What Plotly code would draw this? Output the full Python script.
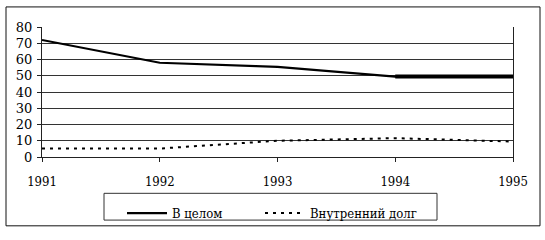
import plotly.graph_objects as go

years = [1991, 1992, 1993, 1994, 1995]
total = [72, 58, 55.5, 49.5, 49.5]
domestic = [5.3, 5.2, 10, 11.6, 9.5]
series_names = ["В целом", "Внутренний долг"]

W, H = 545, 240
ML, MR, MT, MB = 42, 32, 27, 77
pw = W - ML - MR
ph = H - MT - MB

def px_x(p):
    return (p - ML) / pw

def px_y(p):
    return (H - MB - p) / ph

font = dict(family="DejaVu Serif", size=13, color="black")
cfont = dict(family="DejaVu Serif Condensed, DejaVu Serif", size=13, color="black")

fig = go.Figure()
fig.add_trace(go.Scatter(x=years, y=total, mode="lines", name=series_names[0],
                         legend="legend",
                         line=dict(color="black", width=2.2)))
fig.add_trace(go.Scatter(x=years[3:], y=total[3:], mode="lines", showlegend=False,
                         hoverinfo="skip", line=dict(color="black", width=4)))
fig.add_trace(go.Scatter(x=years, y=domestic, mode="lines", name=series_names[1],
                         legend="legend2",
                         line=dict(color="black", width=2, dash="3px,5px")))

leg_common = dict(orientation="h", yanchor="top", xanchor="left",
                  borderwidth=0, bgcolor="rgba(0,0,0,0)", font=cfont, itemwidth=40)

fig.update_layout(
    width=W, height=H,
    margin=dict(l=ML, r=MR, t=MT, b=MB, pad=0),
    paper_bgcolor="white", plot_bgcolor="white",
    font=font,
    showlegend=True,
    legend=dict(x=px_x(122), y=px_y(206), **leg_common),
    legend2=dict(x=px_x(260), y=px_y(206), **leg_common),
    xaxis=dict(range=[1991, 1995], tickvals=years, ticktext=[str(y) for y in years],
               showgrid=False, zeroline=False, showline=True, linecolor="#222", linewidth=1,
               ticks="outside", ticklen=4, tickcolor="#222", tickfont=cfont,
               ticklabelstandoff=8),
    yaxis=dict(range=[0, 80], dtick=10, showgrid=True, gridcolor="#333", gridwidth=1,
               zeroline=False, showline=True, linecolor="#222", linewidth=1, mirror=True,
               ticks="outside", ticklen=4, tickcolor="#222", tickfont=font,
               ticklabelstandoff=2),
    shapes=[
        dict(type="rect", xref="paper", yref="paper",
             x0=px_x(6), x1=px_x(540), y0=px_y(235), y1=px_y(6),
             line=dict(color="#111", width=1), fillcolor="rgba(0,0,0,0)", layer="below"),
        dict(type="rect", xref="paper", yref="paper",
             x0=px_x(104), x1=px_x(437), y0=px_y(229), y1=px_y(201),
             line=dict(color="#333", width=1), fillcolor="rgba(0,0,0,0)", layer="below"),
    ],
)

fig.write_html("out.html")
